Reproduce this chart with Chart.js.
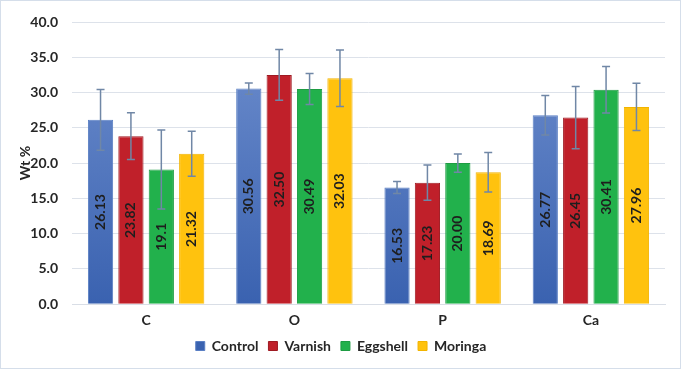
<!DOCTYPE html>
<html>
<head>
<meta charset="utf-8">
<script src="https://cdn.jsdelivr.net/npm/chart.js@4"></script>
<style>
  html, body { margin: 0; padding: 0; background: #fff; }
  #wrap { width: 681px; height: 369px; box-sizing: border-box; border: 1px solid #d5deea; position: relative; }
  #wrap canvas { display: block; }
</style>
</head>
<body>
<div id="wrap"><canvas id="grafico" width="679" height="367"></canvas></div>
<script>
const categorias = ['C', 'O', 'P', 'Ca'];

const control = [26.13, 30.56, 16.53, 26.77];
const varnish = [23.82, 32.50, 17.23, 26.45];
const eggshell = [19.1, 30.49, 20.00, 30.41];
const moringa = [21.32, 32.03, 18.69, 27.96];

// textos dos rotulos como aparecem no original
const rotControl = ['26.13', '30.56', '16.53', '26.77'];
const rotVarnish = ['23.82', '32.50', '17.23', '26.45'];
const rotEggshell = ['19.1', '30.49', '20.00', '30.41'];
const rotMoringa = ['21.32', '32.03', '18.69', '27.96'];

// desvio (barras de erro)
const errControl = [4.3, 0.8, 0.85, 2.8];
const errVarnish = [3.3, 3.6, 2.5, 4.4];
const errEggshell = [5.6, 2.2, 1.3, 3.3];
const errMoringa = [3.2, 4.0, 2.8, 3.35];

const yTicks = [0, 5, 10, 15, 20, 25, 30, 35, 40];

const fonte = 'Lato, "Open Sans", sans-serif';

function gradienteAzul(context) {
  const area = context.chart.chartArea;
  if (!area) return '#4a6fbb';
  const g = context.chart.ctx.createLinearGradient(0, area.top, 0, area.bottom);
  g.addColorStop(0, '#6f8fce');
  g.addColorStop(1, '#3a62b0');
  return g;
}

const errorBars = {
  id: 'errorBars',
  afterDatasetsDraw(chart) {
    const ctx = chart.ctx;
    const y = chart.scales.y;
    ctx.save();
    ctx.strokeStyle = '#7087a6';
    ctx.lineWidth = 1.5;
    chart.data.datasets.forEach((ds, i) => {
      const meta = chart.getDatasetMeta(i);
      meta.data.forEach((bar, j) => {
        const v = ds.data[j];
        const e = ds.erro[j];
        const top = y.getPixelForValue(v + e);
        const bot = y.getPixelForValue(v - e);
        ctx.beginPath();
        ctx.moveTo(bar.x, top); ctx.lineTo(bar.x, bot);
        ctx.moveTo(bar.x - 4, top); ctx.lineTo(bar.x + 4, top);
        ctx.moveTo(bar.x - 4, bot); ctx.lineTo(bar.x + 4, bot);
        ctx.stroke();
      });
    });
    ctx.restore();
  }
};

const rotulos = {
  id: 'rotulos',
  afterDraw(chart) {
    const ctx = chart.ctx;
    const y = chart.scales.y;
    ctx.save();
    ctx.font = 'bold 14px ' + fonte;
    ctx.fillStyle = '#1e1e1e';
    ctx.textAlign = 'center';
    ctx.textBaseline = 'middle';
    chart.data.datasets.forEach((ds, i) => {
      const meta = chart.getDatasetMeta(i);
      meta.data.forEach((bar, j) => {
        const cy = y.getPixelForValue(ds.data[j] / 2);
        ctx.save();
        ctx.translate(bar.x, cy);
        ctx.rotate(-Math.PI / 2);
        ctx.fillText(ds.rotulos[j], 0, 0);
        ctx.restore();
      });
    });
    ctx.restore();
  }
};

function serie(nome, dados, cor, borda, rot, erro) {
  return {
    label: nome,
    data: dados,
    backgroundColor: cor,
    borderColor: borda,
    borderWidth: 1,
    rotulos: rot,
    erro: erro,
    categoryPercentage: 0.82,
    barPercentage: 0.83
  };
}

const ctx = document.getElementById('grafico').getContext('2d');
new Chart(ctx, {
  type: 'bar',
  data: {
    labels: categorias,
    datasets: [
      serie('Control', control, gradienteAzul, '#5a7fc4', rotControl, errControl),
      serie('Varnish', varnish, '#c0202a', '#9e1a22', rotVarnish, errVarnish),
      serie('Eggshell', eggshell, '#22b14c', '#1e9c43', rotEggshell, errEggshell),
      serie('Moringa', moringa, '#ffc20e', '#f2b400', rotMoringa, errMoringa)
    ]
  },
  options: {
    responsive: false,
    animation: false,
    layout: { padding: { top: 6, right: 15, left: 16, bottom: 5 } },
    plugins: {
      legend: {
        position: 'bottom',
        labels: {
          boxWidth: 9,
          boxHeight: 9,
          padding: 10,
          color: '#262626',
          font: { family: fonte, size: 14, weight: 'bold' }
        }
      },
      tooltip: { enabled: false }
    },
    scales: {
      x: {
        grid: { display: false, drawTicks: false },
        border: { color: '#d9dee6' },
        afterFit(scale) { scale.height = scale.height - 8; },
        ticks: { color: '#262626', padding: 8, font: { family: fonte, size: 14, weight: 'bold' } }
      },
      y: {
        min: 0,
        max: 40,
        afterBuildTicks(scale) {
          scale.ticks = yTicks.map(v => ({ value: v }));
        },
        afterFit(scale) { scale.width = 55; },
        grid: { color: '#dde2ea', drawTicks: false },
        border: { display: false },
        ticks: {
          color: '#262626',
          padding: 14,
          font: { family: fonte, size: 14, weight: 'bold', lineHeight: 1 },
          callback: v => v.toFixed(1)
        },
        title: {
          display: true,
          text: 'Wt %',
          color: '#262626',
          padding: 0,
          font: { family: fonte, size: 14, weight: 'bold' }
        }
      }
    }
  },
  plugins: [errorBars, rotulos]
});
</script>
</body>
</html>
